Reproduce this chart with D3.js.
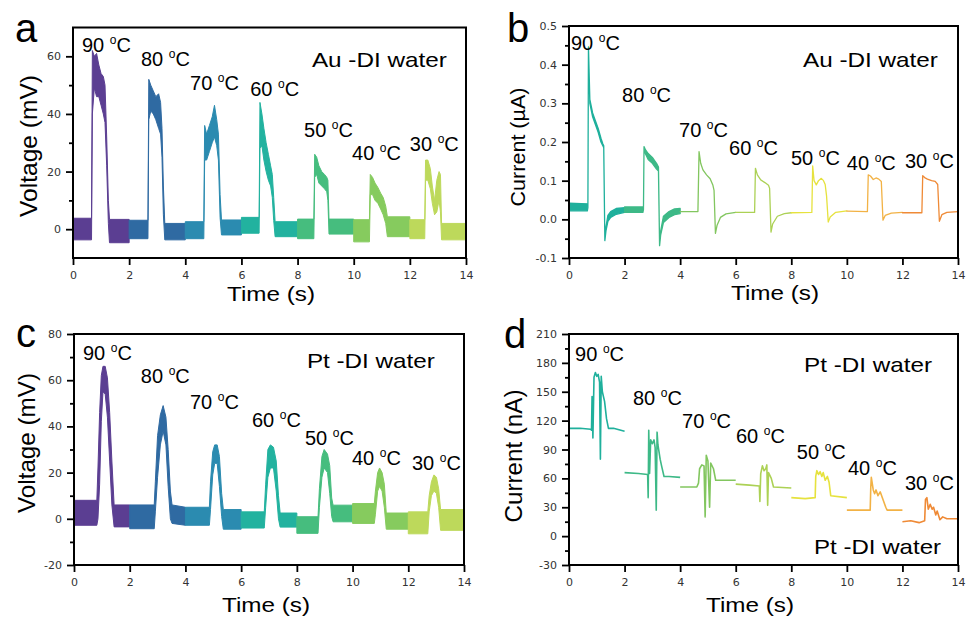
<!DOCTYPE html>
<html lang="en">
<head>
<meta charset="utf-8">
<script src="https://cdn.jsdelivr.net/npm/d3@7"></script>
<style>
  body { margin: 0; background: #fff; }
</style>
</head>
<body>
<div id="chart"></div>
<script>
// ---- data ----
var temperatures = ["90", "80", "70", "60", "50", "40", "30"];
var timeTicks = [0, 2, 4, 6, 8, 10, 12, 14];

var voltageAuTicks = [0, 20, 40, 60];
var voltageAuMinor = [10, 30, 50];
var currentAuTicks = [-0.1, 0, 0.1, 0.2, 0.3, 0.4, 0.5];
var currentAuMinor = [-0.05, 0.05, 0.15, 0.25, 0.35, 0.45];
var voltagePtTicks = [-20, 0, 20, 40, 60, 80];
var voltagePtMinor = [-10, 10, 30, 50, 70];
var currentPtTicks = [-30, 0, 30, 60, 90, 120, 150, 180, 210];
var currentPtMinor = [-15, 15, 45, 75, 105, 135, 165, 195];

var viridisColors = ["#5b3e92", "#2f6aa2", "#2b8bb0", "#22b29f", "#46bd7e", "#86cb5e", "#bdd95b"];
var warmColors = ["#1fb09c", "#3db987", "#82c65f", "#acd155", "#e6e23e", "#f2b245", "#ef8a36"];

// Au - DI water voltage (mV): [time, low, high] noise envelope per 2 s step
var voltageAu = [
  [[0,-3.7,3.8],[0.66,-3.7,3.8],[0.69,40,62],[0.76,49,60],[0.84,46,61],[0.92,46,57],[1.0,43,54],[1.08,40,53],[1.14,37,50],[1.2,22,32],[1.26,2,10],[1.3,-4.7,3.4],[2,-4.7,3.4]],
  [[2,-3.3,3.1],[2.67,-3.3,3.1],[2.7,38,52],[2.77,41,50],[2.86,40,48],[2.95,38,46],[3.05,35,47],[3.12,33,44],[3.17,25,35],[3.22,5,15],[3.27,-3.7,2],[4,-3.7,2]],
  [[4,-3.3,2.6],[4.66,-3.3,2.6],[4.69,24,36],[4.76,24,33],[4.86,27,36],[4.96,30,39],[5.04,32,43],[5.12,29,38],[5.18,24,33],[5.24,4,12],[5.29,-2,3.2],[6,-2,3.2]],
  [[6,-1.4,4.1],[6.63,-1.4,4.1],[6.66,28,44],[6.73,29,40],[6.8,24,35],[6.88,20,30],[6.96,17,26],[7.04,15,22],[7.1,11,19],[7.15,3,11],[7.2,-2.6,2.6],[8,-2.6,2.6]],
  [[8,-3.3,3.5],[8.58,-3.3,3.5],[8.61,18,26],[8.68,19,25],[8.76,16,22],[8.86,15,20],[8.96,14,19],[9.04,13,18],[9.08,10,17],[9.12,-1.7,3.5],[10,-1.7,3.5]],
  [[10,-4.4,3.3],[10.56,-4.4,3.3],[10.59,12,19],[10.67,12,18],[10.76,10,16],[10.86,9,14.5],[10.96,7,12.5],[11.05,5,11],[11.14,2,8],[11.2,-2.6,4.3],[12,-2.6,4.3]],
  [[12,-3.3,3.3],[12.53,-3.3,3.3],[12.56,17,24],[12.64,17,24],[12.73,14,21],[12.8,9,15],[12.88,5,10],[12.96,6,17],[13.04,10,20],[13.09,6,19],[13.13,-3.7,2],[14,-3.7,2]]
];

// Au - DI water current (uA): [time, low, high]
var currentAu = [
  [[0,0.022,0.042],[0.66,0.022,0.04],[0.68,0.03,0.03],[0.7,0.446,0.446],[0.75,0.3,0.31],[0.85,0.265,0.275],[0.95,0.245,0.255],[1.05,0.225,0.235],[1.15,0.2,0.21],[1.22,0.19,0.195],[1.25,0.185,0.19],[1.29,-0.055,-0.055],[1.33,-0.03,-0.02],[1.4,-0.005,0.01],[1.5,0.005,0.02],[1.7,0.013,0.028],[2,0.018,0.03]],
  [[2,0.018,0.032],[2.66,0.018,0.032],[2.68,0.025,0.025],[2.7,0.188,0.188],[2.75,0.17,0.18],[2.85,0.155,0.17],[3.0,0.145,0.16],[3.15,0.13,0.145],[3.22,0.125,0.135],[3.26,-0.068,-0.068],[3.3,-0.04,-0.03],[3.4,-0.008,0.008],[3.6,0.005,0.02],[3.8,0.012,0.027],[4,0.015,0.028]],
  [[4,0.02,0.02],[4.64,0.02,0.02],[4.68,0.175,0.175],[4.74,0.145,0.145],[4.82,0.128,0.128],[4.95,0.115,0.115],[5.08,0.105,0.105],[5.18,0.088,0.088],[5.22,0.075,0.075],[5.27,-0.036,-0.036],[5.33,-0.015,-0.015],[5.45,0.005,0.005],[5.65,0.014,0.014],[6,0.018,0.018]],
  [[6,0.018,0.018],[6.68,0.018,0.018],[6.71,0.132,0.132],[6.78,0.115,0.115],[6.9,0.102,0.102],[7.05,0.095,0.095],[7.18,0.088,0.088],[7.22,0.08,0.08],[7.27,-0.033,-0.033],[7.33,-0.012,-0.012],[7.5,0.008,0.008],[7.75,0.015,0.015],[8,0.017,0.017]],
  [[8,0.017,0.017],[8.74,0.018,0.018],[8.77,0.138,0.138],[8.82,0.1,0.1],[8.9,0.089,0.089],[8.98,0.1,0.1],[9.08,0.106,0.106],[9.16,0.1,0.1],[9.22,0.09,0.09],[9.27,0.06,0.06],[9.33,-0.007,-0.007],[9.4,0.006,0.006],[9.6,0.018,0.018],[10,0.022,0.022]],
  [[10,0.021,0.021],[10.74,0.02,0.02],[10.77,0.115,0.115],[10.85,0.112,0.112],[10.95,0.103,0.103],[11.05,0.107,0.107],[11.15,0.104,0.104],[11.24,0.098,0.098],[11.3,-0.002,-0.002],[11.38,0.01,0.01],[11.6,0.016,0.016],[12,0.018,0.018]],
  [[12,0.017,0.017],[12.7,0.017,0.017],[12.73,0.113,0.113],[12.8,0.108,0.108],[12.9,0.104,0.104],[13.05,0.1,0.1],[13.18,0.098,0.098],[13.27,0.09,0.09],[13.33,-0.005,-0.005],[13.42,0.012,0.012],[13.6,0.018,0.018],[14,0.02,0.02]]
];

// Pt - DI water voltage (mV): [time, low, high]
var voltagePt = [
  [[0,-2.8,8],[0.82,-2.8,8],[0.86,0,22],[0.92,15,46],[0.98,42,62],[1.04,55,66],[1.12,54,66],[1.2,44,61],[1.28,25,46],[1.36,6,25],[1.44,-3.5,6],[2,-3.5,6]],
  [[2,-4.3,6],[2.88,-4.3,6],[2.92,3,16],[3.0,18,36],[3.1,32,45],[3.2,38,49],[3.3,32,44],[3.38,14,30],[3.46,0,12],[3.52,-2,6],[4,-2.8,5]],
  [[4,-2.8,5],[4.86,-2.8,5],[4.9,4,16],[4.98,19,29],[5.05,24,32],[5.14,24,32],[5.22,14,27],[5.3,1,11],[5.36,-4.5,4],[6,-4.5,4]],
  [[6,-4,3],[6.83,-4,3],[6.88,5,15],[6.96,18,30],[7.05,22,32],[7.16,22,31],[7.26,12,25],[7.34,0,10],[7.4,-3.6,2.5],[8,-3.6,2.5]],
  [[8,-6.3,0.9],[8.76,-6.3,0.9],[8.81,5,13],[8.9,18,27],[8.98,22,30],[9.1,20,28],[9.18,11,23],[9.25,1,9],[9.3,-1.3,5.9],[10,-1.3,5.9]],
  [[10,-2,6.6],[10.78,-2,6.6],[10.82,2,12],[10.9,12,20],[10.97,14,22],[11.06,12,20],[11.14,5,15],[11.21,-4.5,2.5],[12,-4.5,2.5]],
  [[12,-6.5,3],[12.7,-6.5,3],[12.75,3,10],[12.83,10,16],[12.92,12,19],[13.01,11,18],[13.09,5,13],[13.16,-5,4],[14,-5,4]]
];

// Pt - DI water current (nA): [time, value]
var currentPt = [
  [[0,112],[0.4,112],[0.78,111],[0.81,110],[0.83,145],[0.86,102],[0.9,165],[0.95,170],[1.0,166],[1.05,168],[1.1,160],[1.13,80],[1.16,166],[1.2,150],[1.28,140],[1.35,122],[1.42,112],[1.6,112],[2,109]],
  [[2,66],[2.5,65],[2.83,64],[2.85,40],[2.87,110],[2.9,65],[2.94,100],[3.0,96],[3.06,100],[3.1,92],[3.14,27],[3.17,108],[3.2,95],[3.28,80],[3.34,72],[3.42,62],[3.6,62],[4,61]],
  [[4,51],[4.6,51],[4.66,55],[4.7,70],[4.78,74],[4.86,73],[4.9,20],[4.94,84],[5.0,78],[5.06,30],[5.1,76],[5.2,70],[5.28,58],[5.5,58],[6,58]],
  [[6,54],[6.5,53],[6.85,52],[6.87,36],[6.9,65],[6.96,73],[7.02,68],[7.08,70],[7.12,74],[7.15,32],[7.18,66],[7.28,60],[7.36,51],[8,50]],
  [[8,40],[8.5,39],[8.86,40],[8.88,62],[8.92,68],[8.98,64],[9.04,67],[9.1,62],[9.15,66],[9.22,58],[9.3,62],[9.36,56],[9.42,42],[10,40]],
  [[10,27],[10.84,27],[10.86,50],[10.88,61],[10.95,48],[11.0,44],[11.05,48],[11.12,42],[11.2,46],[11.3,38],[11.4,30],[11.45,27],[12,27]],
  [[12,15],[12.3,16],[12.6,14],[12.8,16],[12.83,38],[12.88,40],[12.93,28],[13.0,33],[13.07,28],[13.12,30],[13.2,22],[13.25,26],[13.35,17],[13.45,20],[13.6,18],[14,18]]
];

// ---- drawing ----
var width = 968, height = 619;
var svg = d3.select("#chart").append("svg")
    .attr("width", width)
    .attr("height", height)
    .style("font-family", "'Liberation Sans', Arial, sans-serif");

// write one label; "len" stretches it to the measured width
function label(g, x, y, str, size, len, rot) {
    var t = g.append("text")
        .attr("transform", "translate(" + x + "," + y + ")" + (rot ? " rotate(-90)" : ""))
        .attr("font-size", size)
        .attr("fill", "#000")
        .text(str);
    if (rot) t.attr("text-anchor", "middle");
    if (len) t.attr("textLength", len).attr("lengthAdjust", "spacingAndGlyphs");
    return t;
}

function tempLabel(g, x, y, temp) {
    var t = g.append("text")
        .attr("x", x).attr("y", y)
        .attr("font-size", 20)
        .attr("fill", "#000");
    t.append("tspan").text(temp + " ");
    t.append("tspan").attr("font-size", 12).attr("dy", -8).text("o");
    t.append("tspan").attr("dy", 8).text("C");
}

function drawPanel(p) {
    var g = svg.append("g");
    var x = d3.scaleLinear().domain([0, 14]).range([p.left, p.right]);
    var y = d3.scaleLinear().domain(p.yDomain).range([p.bottom, p.top]);

    // traces, one colour per temperature step
    p.series.forEach(function(seg, i) {
        if (p.band) {
            var area = d3.area()
                .x(function(d) { return x(d[0]); })
                .y0(function(d) { return y(d[1]); })
                .y1(function(d) { return y(d[2]); });
            g.append("path").datum(seg)
                .attr("d", area)
                .attr("fill", p.colors[i])
                .attr("stroke", p.colors[i])
                .attr("stroke-width", p.lw)
                .attr("stroke-linejoin", "round");
        } else {
            var line = d3.line()
                .x(function(d) { return x(d[0]); })
                .y(function(d) { return y(d[1]); });
            g.append("path").datum(seg)
                .attr("d", line)
                .attr("fill", "none")
                .attr("stroke", p.colors[i])
                .attr("stroke-width", p.lw)
                .attr("stroke-linejoin", "round");
        }
    });

    // axes
    var xAxis = d3.axisBottom(x).tickValues(timeTicks).tickSize(7).tickPadding(6);
    var yAxis = d3.axisLeft(y).tickValues(p.ticks).tickSize(7).tickPadding(5).tickFormat(p.fmt);
    var yMinor = d3.axisLeft(y).tickValues(p.minor).tickSize(4).tickFormat("");

    [g.append("g").attr("transform", "translate(0," + p.bottom + ")").call(xAxis),
     g.append("g").attr("transform", "translate(" + p.left + ",0)").call(yAxis),
     g.append("g").attr("transform", "translate(" + p.left + ",0)").call(yMinor)
    ].forEach(function(a) {
        a.select(".domain").remove();
        a.selectAll("line").attr("stroke", "#000").attr("stroke-width", 1.8);
        a.selectAll("text")
            .attr("fill", "#333")
            .style("font-family", "'DejaVu Sans', sans-serif")
            .style("font-size", "11px");
    });

    // frame
    g.append("rect")
        .attr("x", p.left).attr("y", p.top)
        .attr("width", p.right - p.left).attr("height", p.bottom - p.top)
        .attr("fill", "none").attr("stroke", "#000").attr("stroke-width", 2);

    // titles and annotations
    label(g, p.yTitle[0], p.yTitle[1], p.yName, p.yTitle[2], p.yTitle[3], true);
    label(g, p.xTitle[0] - 44, p.xTitle[1], "Time (s)", 21, 88, false);
    label(g, p.letter[0], p.letter[1], p.name, 40, null, false);

    p.tempAt.forEach(function(d, i) {
        tempLabel(g, x(d[0]), y(d[1]), temperatures[i]);
    });
    p.notes.forEach(function(n) {
        label(g, x(n[0]), y(n[1]), n[2], 21, n[3], false);
    });
}

drawPanel({
    name: "a", letter: [15, 42],
    left: 73, right: 466, top: 27.5, bottom: 258,
    yDomain: [-10, 70], ticks: voltageAuTicks, minor: voltageAuMinor, fmt: String,
    series: voltageAu, colors: viridisColors, band: true, lw: 1,
    yName: "Voltage (mV)", yTitle: [37, 146, 24, 142], xTitle: [271, 301],
    tempAt: [[0.32, 61.5], [2.42, 56.6], [4.17, 48.3], [6.31, 46.2], [8.23, 32], [9.94, 24], [12.0, 27.1]],
    notes: [[8.51, 56.3, "Au -DI water", 135]]
});

drawPanel({
    name: "b", letter: [507, 42],
    left: 569, right: 958, top: 26, bottom: 258,
    yDomain: [-0.1, 0.5], ticks: currentAuTicks, minor: currentAuMinor,
    fmt: function(d) { return d.toFixed(1); },
    series: currentAu, colors: warmColors, band: true, lw: 1.3,
    yName: "Current (\u00b5A)", yTitle: [525, 147, 21, 119], xTitle: [775, 300],
    tempAt: [[0.07, 0.438], [1.91, 0.303], [3.96, 0.213], [5.76, 0.166], [7.99, 0.14], [10.0, 0.127], [12.09, 0.132]],
    notes: [[8.42, 0.394, "Au -DI water", 135]]
});

drawPanel({
    name: "c", letter: [16, 347],
    left: 74, right: 464, top: 334, bottom: 565,
    yDomain: [-20, 80], ticks: voltagePtTicks, minor: voltagePtMinor, fmt: String,
    series: voltagePt, colors: viridisColors, band: true, lw: 1,
    yName: "Voltage (mV)", yTitle: [35, 443, 24, 140], xTitle: [266, 612],
    tempAt: [[0.32, 68.7], [2.4, 58.8], [4.16, 47.5], [6.39, 39.7], [8.29, 31.9], [9.98, 23.3], [12.13, 21.1]],
    notes: [[8.36, 65.3, "Pt -DI water", 128]]
});

drawPanel({
    name: "d", letter: [504, 348],
    left: 569, right: 958, top: 334, bottom: 565,
    yDomain: [-30, 210], ticks: currentPtTicks, minor: currentPtMinor, fmt: String,
    series: currentPt, colors: warmColors, band: false, lw: 1.6,
    yName: "Current (nA)", yTitle: [522, 456, 23, 133], xTitle: [750, 612],
    tempAt: [[0.22, 181.9], [2.3, 136.2], [4.07, 112.3], [6.01, 96.7], [8.2, 80.1], [10.04, 63.5], [12.09, 47.9]],
    notes: [[8.46, 170.5, "Pt -DI water", 128], [8.82, -18.6, "Pt -DI water", 127]]
});
</script>
</body>
</html>
